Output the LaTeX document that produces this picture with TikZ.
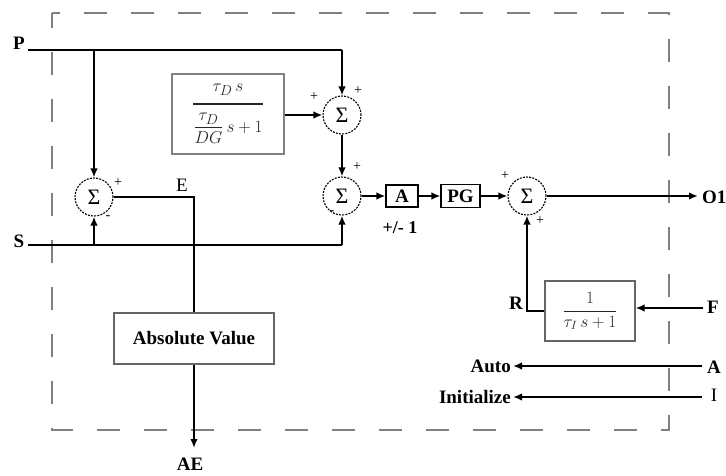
\documentclass[tikz,border=0pt]{standalone}
\usepackage{amsmath}
\usepackage{fontspec}
\setmainfont{Liberation Serif}
\usetikzlibrary{arrows.meta}
\begin{document}
\begin{tikzpicture}[x=1pt,y=-1pt,
  sig/.style={circle, draw, dash pattern=on 2pt off 1.2pt, line width=1.1pt, minimum size=38pt, inner sep=0pt, font=\fontsize{22}{22}\selectfont},
  blk/.style={draw, line width=1.1pt, inner sep=0pt},
  lbl/.style={font=\bfseries\fontsize{19}{19}\selectfont, inner sep=0pt},
  rlbl/.style={font=\fontsize{19}{19}\selectfont, inner sep=0pt},
  sgn/.style={font=\fontsize{14}{14}\selectfont, inner sep=0pt},
  wire/.style={line width=2pt},
  arr/.style={wire, -{Latex[length=9pt,width=7.5pt]}},
]
\useasboundingbox (0,0) rectangle (726,475);
\draw[gray, line width=1.3pt, dash pattern=on 23pt off 24pt, dash phase=8pt] (52,13) rectangle (669,430);

% summing junctions
\node[sig] (s1) at (342,115) {Σ};
\node[sig] (s2) at (342,196) {Σ};
\node[sig] (s3) at (94,197) {Σ};
\node[sig] (s4) at (527,196) {Σ};

% blocks
\node[blk, draw=gray, minimum width=112pt, minimum height=80pt, text=gray!30!black, font=\fontsize{19}{22}\selectfont] (deriv) at (228,114)
  {$\displaystyle\genfrac{}{}{2.5pt}{0}{\tau_D\, s}{\dfrac{\tau_D}{DG}\,s+1}$};
\node[blk, lbl, minimum width=32pt, minimum height=22pt] (a) at (402,196) {A};
\node[blk, lbl, minimum width=39pt, minimum height=23pt] (pg) at (460.5,196) {PG};
\node[blk, draw=gray!80!black, minimum width=90pt, minimum height=60pt, text=gray!30!black, font=\fontsize{17}{20}\selectfont] (integ) at (590,311)
  {$\dfrac{1}{\tau_I\, s+1}$};
\node[blk, lbl, draw=gray!80!black, minimum width=160pt, minimum height=51pt] (abs) at (194,338.5) {Absolute Value};

% coordinates
\coordinate (pin) at (28,50);
\coordinate (pc) at (342,50);
\coordinate (pj) at (94,50);
\coordinate (sin) at (28,245);
\coordinate (sc) at (342,245);
\coordinate (sj) at (94,245);
\coordinate (ec) at (194,197);
\coordinate (aeend) at (194,448);
\coordinate (o1end) at (698,196);
\coordinate (fin) at (703,308);
\coordinate (autoin) at (702,366);
\coordinate (autoend) at (513,366);
\coordinate (iin) at (702,397);
\coordinate (iend) at (513,397);

% connectors
\draw[wire] (pin) -- (pc);
\draw[arr] (pc) -- (s1.north);
\draw[arr] (pj) -- (s3.north);
\draw[wire] (sin) -- (sc);
\draw[arr] (sc) -- (s2.south);
\draw[arr] (sj) -- (s3.south);
\draw[wire, line width=1.6pt] (s3.east) -- (ec) -- (abs.north);
\draw[arr] (abs.south) -- (aeend);
\draw[arr] (deriv.east |- s1.west) -- (s1.west);
\draw[arr] (s1.south) -- (s2.north);
\draw[arr] (s2.east) -- (a.west);
\draw[arr] (a.east) -- (pg.west);
\draw[arr] (pg.east) -- (s4.west);
\draw[arr] (s4.east) -- (o1end);
\draw[arr] (integ.west) -| (s4.south);
\draw[arr] (fin) -- (fin -| integ.east);
\draw[arr] (autoin) -- (autoend);
\draw[arr] (iin) -- (iend);

% labels
\node[lbl] (lp) at (19,43) {P};
\node[lbl] (ls) at (19,241) {S};
\node[rlbl] (le) at (182,185) {E};
\node[lbl] (lae) at (190,464) {AE};
\node[lbl] (lr) at (516,303) {R};
\node[lbl] (lf) at (713,307) {F};
\node[lbl, anchor=west] (lo) at (702,197) {O1};
\node[lbl] (la) at (714,367) {A};
\node[rlbl] (li) at (714,395) {I};
\node[lbl, anchor=east] (lauto) at (511,366) {Auto};
\node[lbl, anchor=east] (linit) at (511,397) {Initialize};
\node[lbl, font=\bfseries\fontsize{18}{18}\selectfont] (lpm) at (400,228) {+/- 1};

% signs
\node[sgn] at (314,97) {+};
\node[sgn] at (358,91) {+};
\node[sgn] at (357,167) {+};
\node[sgn] at (332,213) {-};
\node[sgn] at (118,183) {+};
\node[sgn] at (108,218) {-};
\node[sgn] at (505,176) {+};
\node[sgn] at (540,221) {+};
\end{tikzpicture}
\end{document}
